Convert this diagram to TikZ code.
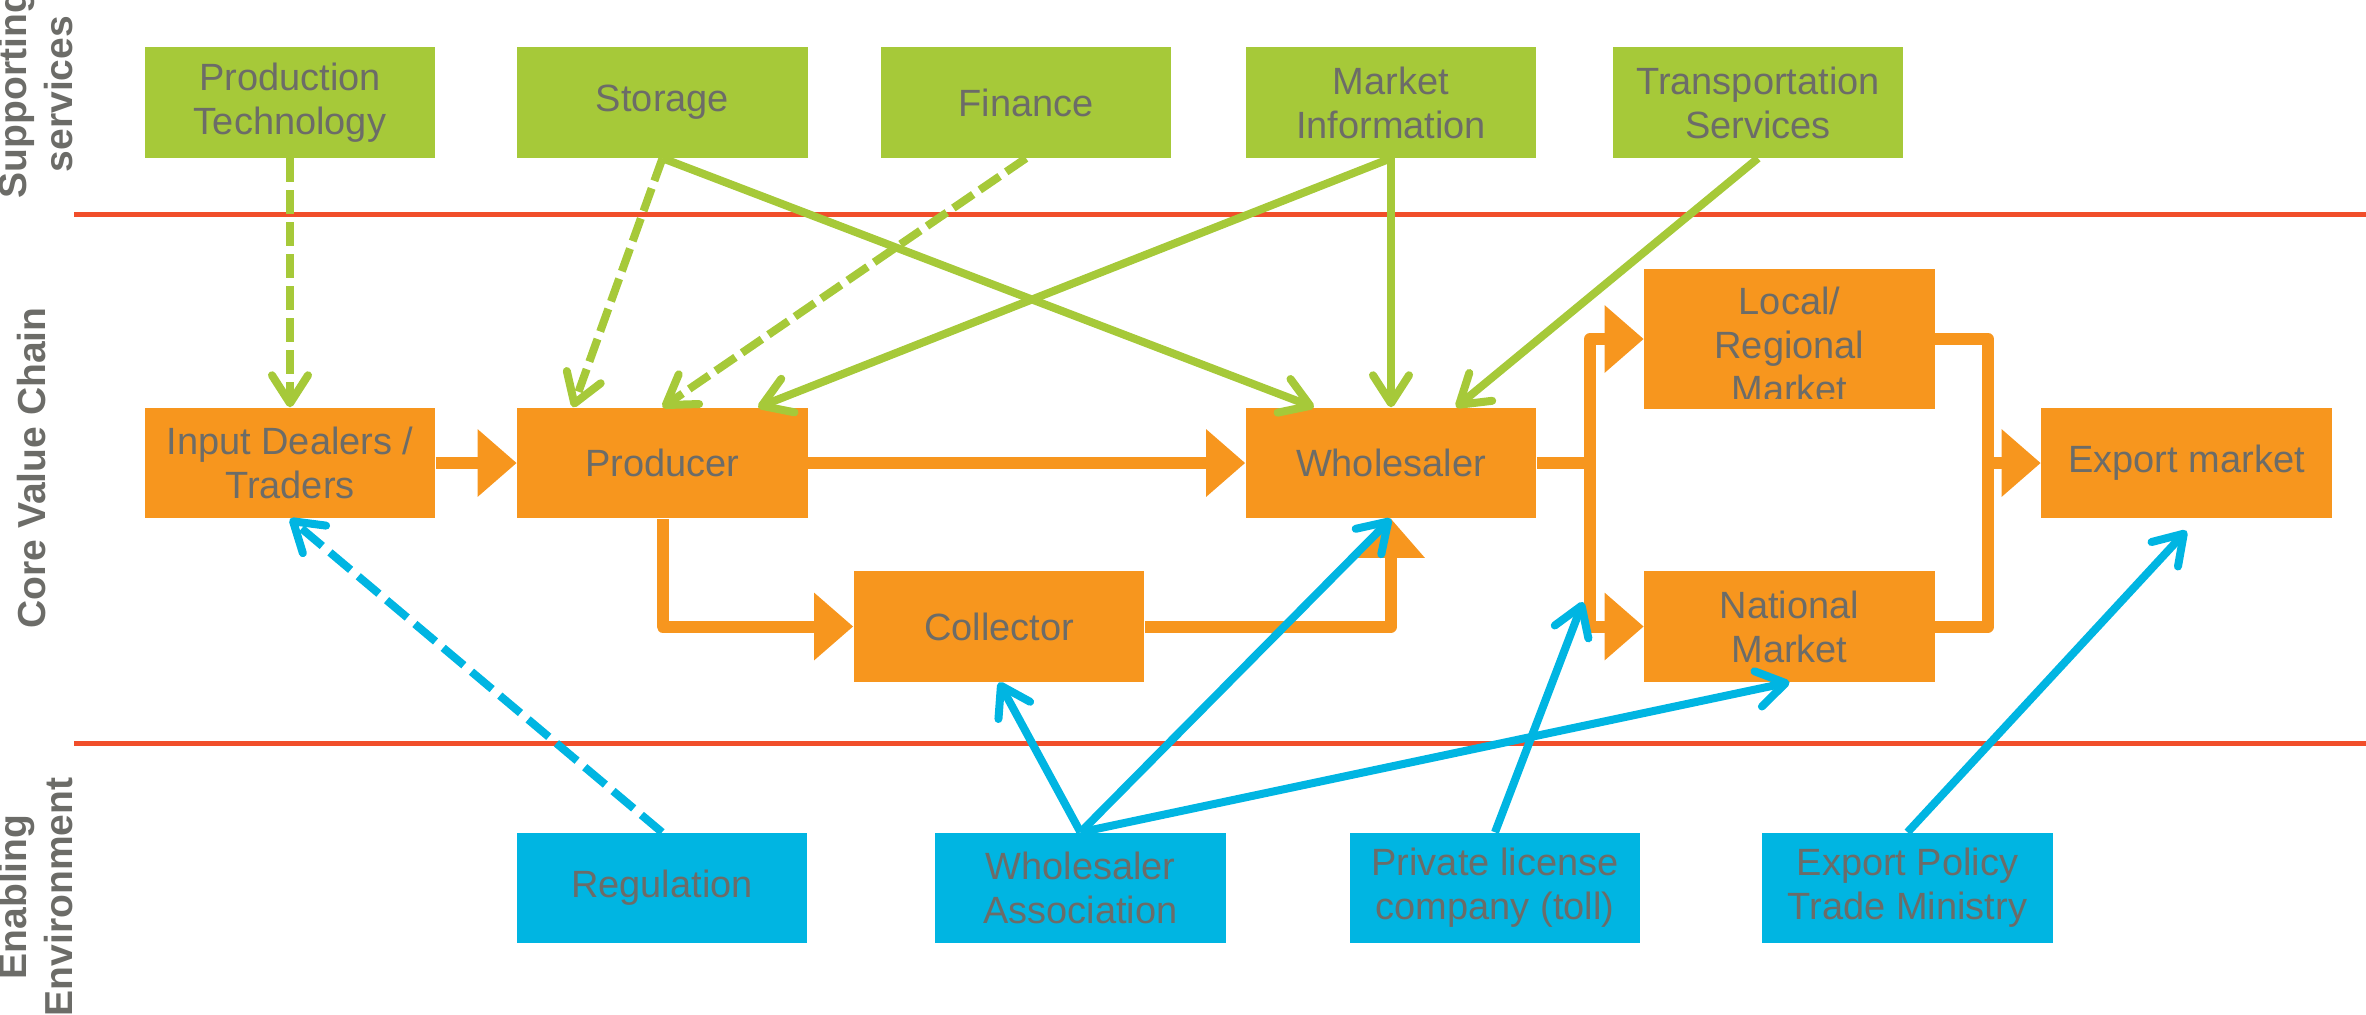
\documentclass[tikz,border=0pt]{standalone}
\usepackage{fontspec}
\setmainfont{Liberation Sans}
\usetikzlibrary{arrows.meta}
\definecolor{grn}{RGB}{166,201,57}
\definecolor{org}{RGB}{247,150,30}
\definecolor{blu}{RGB}{0,181,226}
\definecolor{redl}{RGB}{241,78,42}
\definecolor{txt}{RGB}{108,108,104}
\begin{document}
\begin{tikzpicture}[x=0.01cm,y=-0.01cm,
  box/.style={inner sep=0pt, minimum width=2.9cm, minimum height=1.1cm, align=center, text=txt, font=\fontsize{10.8}{12.5}\selectfont},
  gbox/.style={box, fill=grn},
  obox/.style={box, fill=org},
  bbox/.style={box, fill=blu},
  side/.style={rotate=90, anchor=base, inner sep=0pt, text=txt, font=\fontsize{11.1}{13}\selectfont\bfseries},
  oplain/.style={draw=org, line width=0.12cm, line join=round},
  oline/.style={oplain, -{Triangle[length=0.39cm,width=0.65cm]}},
  gline/.style={draw=grn, line width=0.08cm, -{Straight Barb[round,length=0.28cm,width=0.36cm]}},
  bline/.style={draw=blu, line width=0.08cm, -{Straight Barb[round,length=0.28cm,width=0.36cm]}},
  gdash/.style={gline, dash pattern=on 0.24cm off 0.08cm},
  bdash/.style={bline, dash pattern=on 0.27cm off 0.1cm},
  sep/.style={draw=redl, line width=0.05cm}
]
\useasboundingbox (0,0) rectangle (2366,1014);

% separators
\draw[sep] (74,214) -- (2366,214);
\draw[sep] (74,743) -- (2366,743);

% side labels
\node[side] (sup1) at (27,94) {Supporting};
\node[side] (sup2) at (72,94) {services};
\node[side] (core) at (45,468) {Core Value Chain};
\node[side] (ena1) at (27,897) {Enabling};
\node[side] (ena2) at (72,897) {Environment};

% supporting services
\node[gbox] (pt) at (290,102.5) {Production\\Technology};
\node[gbox] (st) at (662.5,102.5) {Storage};
\node[gbox] (fi) at (1026,102.5) {Finance};
\node[gbox] (mi) at (1391,102.5) {Market\\Information};
\node[gbox] (ts) at (1758,102.5) {Transportation\\Services};

% core value chain
\node[obox] (in) at (290,463) {Input Dealers /\\Traders};
\node[obox] (pr) at (662.5,463) {Producer};
\node[obox] (wh) at (1391,463) {Wholesaler};
\node[obox] (ex) at (2186.5,463) {Export market};
\node[obox] (co) at (999,626.5) {Collector};
\node[obox, minimum height=1.4cm] (lo) at (1789.5,339) {};
\node[obox] (na) at (1789.5,626.5) {National\\Market};
\begin{scope}
  \clip (1644,269) rectangle (1935,398);
  \node[box, minimum width=0pt, minimum height=0pt, anchor=north] (lotext) at (1789.5,286.5) {Local/\\Regional\\Market};
\end{scope}

% enabling environment
\node[bbox] (re) at (662,888) {Regulation};
\node[bbox] (wa) at (1080.5,888) {Wholesaler\\Association};
\node[bbox] (pl) at (1495,888) {Private license\\company (toll)};
\node[bbox] (ep) at (1907.5,888) {Export Policy\\Trade Ministry};

% orange flow
\coordinate (j1) at (1590,463);
\coordinate (j2) at (1988,463);
\draw[oline] (in.east) -- (pr.west);
\draw[oline] (pr.east) -- (wh.west);
\draw[oline] (pr.south) |- (co.west);
\draw[oline] (co.east) -| (wh.south);
\draw[oplain] (wh.east) -- (j1);
\draw[oline] (j1) |- (lo.west);
\draw[oline] (j1) |- (na.west);
\draw[oplain] (lo.east) -| (j2);
\draw[oplain] (na.east) -| (j2);
\draw[oline] (j2) -- (ex.west);

% green supporting links
\draw[gdash] (pt.south) -- (in.north);
\draw[gdash] (st.south) -- ([xshift=-0.895cm]pr.north);
\draw[gdash] (fi.south) -- (pr.north);
\draw[gline] (st.south) -- ([xshift=-0.77cm]wh.north);
\draw[gline] (mi.south) -- ([xshift=0.955cm]pr.north);
\draw[gline] (mi.south) -- (wh.north);
\draw[gline] (ts.south) -- ([xshift=0.65cm]wh.north);

% blue enabling links
\coordinate (plT) at (1583,602);
\draw[bdash] (re.north) -- (in.south);
\draw[bline] (wa.north) -- (co.south);
\draw[bline] (wa.north) -- (wh.south);
\draw[bline] (wa.north) -- (na.south);
\draw[bline] (pl.north) -- (plT);
\draw[bline] (ep.north) -- ([yshift=-0.12cm]ex.south);
\end{tikzpicture}
\end{document}
